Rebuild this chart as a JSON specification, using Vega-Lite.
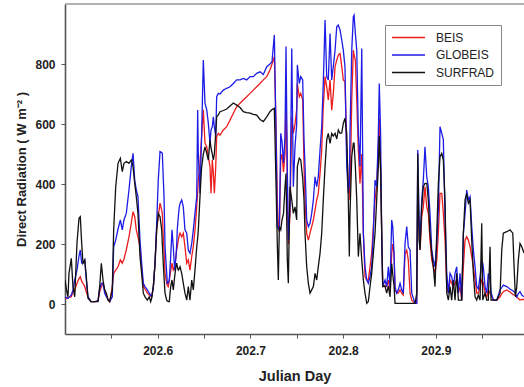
{
  "$schema": "https://vega.github.io/schema/vega-lite/v6.json",
  "width": 459,
  "height": 330,
  "autosize": {"type": "none"},
  "padding": {"left": 65, "top": 4, "right": 0, "bottom": 53},
  "background": "white",
  "config": {
    "view": {"stroke": null},
    "font": "Liberation Sans",
    "axis": {
      "grid": false,
      "domainColor": "#555555",
      "domainWidth": 1.6,
      "tickColor": "#555555",
      "tickSize": 4,
      "labelFont": "Liberation Sans",
      "labelFontWeight": "bold",
      "labelFontSize": 12,
      "labelColor": "#222222",
      "titleFont": "Liberation Sans",
      "titleFontWeight": "bold",
      "titleFontSize": 13,
      "titleColor": "#222222"
    },
    "legend": {
      "orient": "none",
      "legendX": 320,
      "legendY": 21,
      "strokeColor": "#888888",
      "fillColor": "white",
      "padding": 6,
      "symbolType": "M-1,0H5",
      "symbolSize": 121,
      "symbolStrokeWidth": 1.5,
      "labelFont": "Liberation Sans",
      "labelFontSize": 12,
      "labelColor": "#222222",
      "labelOffset": 32,
      "rowPadding": 4.5
    }
  },
  "layer": [
    {
      "data": {"values": [{"top": 1000}]},
      "mark": {"type": "rule", "color": "#999999", "strokeWidth": 1.5},
      "encoding": {
        "y": {"field": "top", "type": "quantitative", "title": "Direct Radiation ( W m⁻² )"}
      }
    },
    {
      "data": {
        "values": [
          {"t": 202.5000, "BEIS": 19, "GLOBEIS": 24, "SURFRAD": 80},
          {"t": 202.5016, "BEIS": 19, "GLOBEIS": 20, "SURFRAD": 47},
          {"t": 202.5032, "BEIS": 20, "GLOBEIS": 19, "SURFRAD": 24},
          {"t": 202.5043, "BEIS": 22, "GLOBEIS": 22, "SURFRAD": 102},
          {"t": 202.5068, "BEIS": 24, "GLOBEIS": 30, "SURFRAD": 152},
          {"t": 202.5086, "BEIS": 40, "GLOBEIS": 47, "SURFRAD": 58},
          {"t": 202.5105, "BEIS": 47, "GLOBEIS": 80, "SURFRAD": 24},
          {"t": 202.5129, "BEIS": 69, "GLOBEIS": 113, "SURFRAD": 202},
          {"t": 202.5151, "BEIS": 85, "GLOBEIS": 160, "SURFRAD": 286},
          {"t": 202.5165, "BEIS": 91, "GLOBEIS": 180, "SURFRAD": 291},
          {"t": 202.5180, "BEIS": 75, "GLOBEIS": 136, "SURFRAD": 202},
          {"t": 202.5194, "BEIS": 69, "GLOBEIS": 136, "SURFRAD": 136},
          {"t": 202.5213, "BEIS": 58, "GLOBEIS": 147, "SURFRAD": 147},
          {"t": 202.5230, "BEIS": 40, "GLOBEIS": 80, "SURFRAD": 91},
          {"t": 202.5248, "BEIS": 24, "GLOBEIS": 24, "SURFRAD": 19},
          {"t": 202.5280, "BEIS": 8, "GLOBEIS": 8, "SURFRAD": 8},
          {"t": 202.5324, "BEIS": 8, "GLOBEIS": 8, "SURFRAD": 8},
          {"t": 202.5356, "BEIS": 10, "GLOBEIS": 10, "SURFRAD": 8},
          {"t": 202.5374, "BEIS": 40, "GLOBEIS": 50, "SURFRAD": 58},
          {"t": 202.5392, "BEIS": 58, "GLOBEIS": 69, "SURFRAD": 136},
          {"t": 202.5410, "BEIS": 69, "GLOBEIS": 69, "SURFRAD": 80},
          {"t": 202.5428, "BEIS": 47, "GLOBEIS": 36, "SURFRAD": 47},
          {"t": 202.5446, "BEIS": 30, "GLOBEIS": 24, "SURFRAD": 36},
          {"t": 202.5464, "BEIS": 15, "GLOBEIS": 15, "SURFRAD": 13},
          {"t": 202.5482, "BEIS": 8, "GLOBEIS": 8, "SURFRAD": 8},
          {"t": 202.5510, "BEIS": 58, "GLOBEIS": 24, "SURFRAD": 47},
          {"t": 202.5525, "BEIS": 102, "GLOBEIS": 191, "SURFRAD": 247},
          {"t": 202.5547, "BEIS": 113, "GLOBEIS": 213, "SURFRAD": 391},
          {"t": 202.5572, "BEIS": 124, "GLOBEIS": 250, "SURFRAD": 469},
          {"t": 202.5597, "BEIS": 147, "GLOBEIS": 280, "SURFRAD": 486},
          {"t": 202.5618, "BEIS": 136, "GLOBEIS": 247, "SURFRAD": 441},
          {"t": 202.5636, "BEIS": 150, "GLOBEIS": 280, "SURFRAD": 469},
          {"t": 202.5661, "BEIS": 180, "GLOBEIS": 302, "SURFRAD": 475},
          {"t": 202.5690, "BEIS": 224, "GLOBEIS": 380, "SURFRAD": 469},
          {"t": 202.5715, "BEIS": 270, "GLOBEIS": 458, "SURFRAD": 480},
          {"t": 202.5734, "BEIS": 308, "GLOBEIS": 502, "SURFRAD": 458},
          {"t": 202.5752, "BEIS": 291, "GLOBEIS": 413, "SURFRAD": 402},
          {"t": 202.5769, "BEIS": 247, "GLOBEIS": 380, "SURFRAD": 358},
          {"t": 202.5787, "BEIS": 224, "GLOBEIS": 358, "SURFRAD": 302},
          {"t": 202.5809, "BEIS": 191, "GLOBEIS": 213, "SURFRAD": 158},
          {"t": 202.5827, "BEIS": 113, "GLOBEIS": 136, "SURFRAD": 102},
          {"t": 202.5845, "BEIS": 58, "GLOBEIS": 69, "SURFRAD": 36},
          {"t": 202.5863, "BEIS": 50, "GLOBEIS": 58, "SURFRAD": 24},
          {"t": 202.5888, "BEIS": 36, "GLOBEIS": 47, "SURFRAD": 13},
          {"t": 202.5909, "BEIS": 30, "GLOBEIS": 36, "SURFRAD": 24},
          {"t": 202.5924, "BEIS": 27, "GLOBEIS": 30, "SURFRAD": 8},
          {"t": 202.5935, "BEIS": 24, "GLOBEIS": 24, "SURFRAD": 20},
          {"t": 202.5953, "BEIS": 58, "GLOBEIS": 58, "SURFRAD": 58},
          {"t": 202.5971, "BEIS": 136, "GLOBEIS": 136, "SURFRAD": 136},
          {"t": 202.5989, "BEIS": 247, "GLOBEIS": 269, "SURFRAD": 247},
          {"t": 202.6006, "BEIS": 291, "GLOBEIS": 413, "SURFRAD": 302},
          {"t": 202.6025, "BEIS": 336, "GLOBEIS": 508, "SURFRAD": 291},
          {"t": 202.6043, "BEIS": 313, "GLOBEIS": 505, "SURFRAD": 247},
          {"t": 202.6050, "BEIS": 300, "GLOBEIS": 502, "SURFRAD": 200},
          {"t": 202.6060, "BEIS": 224, "GLOBEIS": 420, "SURFRAD": 136},
          {"t": 202.6068, "BEIS": 180, "GLOBEIS": 358, "SURFRAD": 90},
          {"t": 202.6079, "BEIS": 102, "GLOBEIS": 191, "SURFRAD": 36},
          {"t": 202.6097, "BEIS": 69, "GLOBEIS": 102, "SURFRAD": 13},
          {"t": 202.6104, "BEIS": 62, "GLOBEIS": 69, "SURFRAD": 10},
          {"t": 202.6114, "BEIS": 58, "GLOBEIS": 70, "SURFRAD": 8},
          {"t": 202.6125, "BEIS": 80, "GLOBEIS": 80, "SURFRAD": 8},
          {"t": 202.6140, "BEIS": 110, "GLOBEIS": 158, "SURFRAD": 58},
          {"t": 202.6154, "BEIS": 136, "GLOBEIS": 247, "SURFRAD": 80},
          {"t": 202.6168, "BEIS": 113, "GLOBEIS": 191, "SURFRAD": 47},
          {"t": 202.6183, "BEIS": 124, "GLOBEIS": 113, "SURFRAD": 91},
          {"t": 202.6197, "BEIS": 160, "GLOBEIS": 158, "SURFRAD": 125},
          {"t": 202.6205, "BEIS": 180, "GLOBEIS": 200, "SURFRAD": 136},
          {"t": 202.6211, "BEIS": 190, "GLOBEIS": 247, "SURFRAD": 125},
          {"t": 202.6222, "BEIS": 213, "GLOBEIS": 290, "SURFRAD": 113},
          {"t": 202.6233, "BEIS": 230, "GLOBEIS": 324, "SURFRAD": 118},
          {"t": 202.6241, "BEIS": 236, "GLOBEIS": 335, "SURFRAD": 124},
          {"t": 202.6259, "BEIS": 224, "GLOBEIS": 347, "SURFRAD": 102},
          {"t": 202.6276, "BEIS": 236, "GLOBEIS": 324, "SURFRAD": 69},
          {"t": 202.6294, "BEIS": 191, "GLOBEIS": 247, "SURFRAD": 36},
          {"t": 202.6313, "BEIS": 136, "GLOBEIS": 236, "SURFRAD": 13},
          {"t": 202.6330, "BEIS": 147, "GLOBEIS": 180, "SURFRAD": 58},
          {"t": 202.6348, "BEIS": 113, "GLOBEIS": 169, "SURFRAD": 13},
          {"t": 202.6367, "BEIS": 158, "GLOBEIS": 202, "SURFRAD": 80},
          {"t": 202.6384, "BEIS": 191, "GLOBEIS": 247, "SURFRAD": 47},
          {"t": 202.6402, "BEIS": 247, "GLOBEIS": 302, "SURFRAD": 113},
          {"t": 202.6421, "BEIS": 324, "GLOBEIS": 358, "SURFRAD": 191},
          {"t": 202.6431, "BEIS": 370, "GLOBEIS": 647, "SURFRAD": 220},
          {"t": 202.6438, "BEIS": 413, "GLOBEIS": 500, "SURFRAD": 247},
          {"t": 202.6456, "BEIS": 469, "GLOBEIS": 369, "SURFRAD": 358},
          {"t": 202.6472, "BEIS": 550, "GLOBEIS": 540, "SURFRAD": 450},
          {"t": 202.6492, "BEIS": 647, "GLOBEIS": 813, "SURFRAD": 500},
          {"t": 202.6510, "BEIS": 536, "GLOBEIS": 669, "SURFRAD": 524},
          {"t": 202.6529, "BEIS": 524, "GLOBEIS": 647, "SURFRAD": 502},
          {"t": 202.6546, "BEIS": 491, "GLOBEIS": 602, "SURFRAD": 480},
          {"t": 202.6564, "BEIS": 458, "GLOBEIS": 536, "SURFRAD": 547},
          {"t": 202.6575, "BEIS": 369, "GLOBEIS": 580, "SURFRAD": 520},
          {"t": 202.6589, "BEIS": 480, "GLOBEIS": 591, "SURFRAD": 500},
          {"t": 202.6600, "BEIS": 436, "GLOBEIS": 624, "SURFRAD": 480},
          {"t": 202.6611, "BEIS": 369, "GLOBEIS": 590, "SURFRAD": 500},
          {"t": 202.6626, "BEIS": 458, "GLOBEIS": 558, "SURFRAD": 569},
          {"t": 202.6636, "BEIS": 558, "GLOBEIS": 691, "SURFRAD": 624},
          {"t": 202.6654, "BEIS": 569, "GLOBEIS": 702, "SURFRAD": 630},
          {"t": 202.6672, "BEIS": 563, "GLOBEIS": 700, "SURFRAD": 641},
          {"t": 202.6708, "BEIS": 580, "GLOBEIS": 713, "SURFRAD": 645},
          {"t": 202.6744, "BEIS": 591, "GLOBEIS": 719, "SURFRAD": 650},
          {"t": 202.6780, "BEIS": 613, "GLOBEIS": 724, "SURFRAD": 660},
          {"t": 202.6816, "BEIS": 636, "GLOBEIS": 735, "SURFRAD": 670},
          {"t": 202.6852, "BEIS": 658, "GLOBEIS": 747, "SURFRAD": 663},
          {"t": 202.6888, "BEIS": 669, "GLOBEIS": 747, "SURFRAD": 655},
          {"t": 202.6923, "BEIS": 680, "GLOBEIS": 752, "SURFRAD": 641},
          {"t": 202.6960, "BEIS": 691, "GLOBEIS": 747, "SURFRAD": 638},
          {"t": 202.6996, "BEIS": 702, "GLOBEIS": 758, "SURFRAD": 636},
          {"t": 202.7031, "BEIS": 713, "GLOBEIS": 758, "SURFRAD": 632},
          {"t": 202.7068, "BEIS": 724, "GLOBEIS": 769, "SURFRAD": 630},
          {"t": 202.7104, "BEIS": 735, "GLOBEIS": 774, "SURFRAD": 615},
          {"t": 202.7139, "BEIS": 747, "GLOBEIS": 765, "SURFRAD": 608},
          {"t": 202.7176, "BEIS": 758, "GLOBEIS": 791, "SURFRAD": 624},
          {"t": 202.7211, "BEIS": 780, "GLOBEIS": 800, "SURFRAD": 641},
          {"t": 202.7233, "BEIS": 800, "GLOBEIS": 808, "SURFRAD": 648},
          {"t": 202.7258, "BEIS": 824, "GLOBEIS": 897, "SURFRAD": 652},
          {"t": 202.7276, "BEIS": 600, "GLOBEIS": 569, "SURFRAD": 404},
          {"t": 202.7290, "BEIS": 350, "GLOBEIS": 258, "SURFRAD": 200},
          {"t": 202.7301, "BEIS": 260, "GLOBEIS": 250, "SURFRAD": 80},
          {"t": 202.7312, "BEIS": 240, "GLOBEIS": 247, "SURFRAD": 258},
          {"t": 202.7327, "BEIS": 480, "GLOBEIS": 569, "SURFRAD": 247},
          {"t": 202.7341, "BEIS": 500, "GLOBEIS": 540, "SURFRAD": 280},
          {"t": 202.7357, "BEIS": 440, "GLOBEIS": 470, "SURFRAD": 302},
          {"t": 202.7373, "BEIS": 500, "GLOBEIS": 560, "SURFRAD": 391},
          {"t": 202.7384, "BEIS": 700, "GLOBEIS": 858, "SURFRAD": 435},
          {"t": 202.7398, "BEIS": 400, "GLOBEIS": 450, "SURFRAD": 147},
          {"t": 202.7409, "BEIS": 200, "GLOBEIS": 213, "SURFRAD": 69},
          {"t": 202.7427, "BEIS": 300, "GLOBEIS": 330, "SURFRAD": 391},
          {"t": 202.7446, "BEIS": 624, "GLOBEIS": 852, "SURFRAD": 347},
          {"t": 202.7463, "BEIS": 569, "GLOBEIS": 391, "SURFRAD": 302},
          {"t": 202.7481, "BEIS": 600, "GLOBEIS": 524, "SURFRAD": 324},
          {"t": 202.7499, "BEIS": 650, "GLOBEIS": 600, "SURFRAD": 280},
          {"t": 202.7506, "BEIS": 735, "GLOBEIS": 797, "SURFRAD": 458},
          {"t": 202.7527, "BEIS": 691, "GLOBEIS": 735, "SURFRAD": 486},
          {"t": 202.7543, "BEIS": 702, "GLOBEIS": 758, "SURFRAD": 480},
          {"t": 202.7564, "BEIS": 680, "GLOBEIS": 747, "SURFRAD": 420},
          {"t": 202.7578, "BEIS": 458, "GLOBEIS": 547, "SURFRAD": 347},
          {"t": 202.7589, "BEIS": 347, "GLOBEIS": 458, "SURFRAD": 236},
          {"t": 202.7607, "BEIS": 236, "GLOBEIS": 280, "SURFRAD": 124},
          {"t": 202.7625, "BEIS": 213, "GLOBEIS": 258, "SURFRAD": 69},
          {"t": 202.7643, "BEIS": 236, "GLOBEIS": 269, "SURFRAD": 36},
          {"t": 202.7661, "BEIS": 258, "GLOBEIS": 302, "SURFRAD": 47},
          {"t": 202.7679, "BEIS": 280, "GLOBEIS": 347, "SURFRAD": 58},
          {"t": 202.7697, "BEIS": 313, "GLOBEIS": 424, "SURFRAD": 102},
          {"t": 202.7715, "BEIS": 347, "GLOBEIS": 391, "SURFRAD": 80},
          {"t": 202.7732, "BEIS": 369, "GLOBEIS": 424, "SURFRAD": 124},
          {"t": 202.7751, "BEIS": 435, "GLOBEIS": 513, "SURFRAD": 169},
          {"t": 202.7769, "BEIS": 513, "GLOBEIS": 591, "SURFRAD": 236},
          {"t": 202.7786, "BEIS": 658, "GLOBEIS": 735, "SURFRAD": 347},
          {"t": 202.7805, "BEIS": 758, "GLOBEIS": 947, "SURFRAD": 458},
          {"t": 202.7823, "BEIS": 724, "GLOBEIS": 758, "SURFRAD": 547},
          {"t": 202.7840, "BEIS": 680, "GLOBEIS": 747, "SURFRAD": 569},
          {"t": 202.7859, "BEIS": 747, "GLOBEIS": 902, "SURFRAD": 535},
          {"t": 202.7877, "BEIS": 646, "GLOBEIS": 747, "SURFRAD": 569},
          {"t": 202.7894, "BEIS": 702, "GLOBEIS": 791, "SURFRAD": 560},
          {"t": 202.7913, "BEIS": 791, "GLOBEIS": 846, "SURFRAD": 569},
          {"t": 202.7931, "BEIS": 813, "GLOBEIS": 924, "SURFRAD": 550},
          {"t": 202.7948, "BEIS": 830, "GLOBEIS": 930, "SURFRAD": 580},
          {"t": 202.7967, "BEIS": 835, "GLOBEIS": 913, "SURFRAD": 569},
          {"t": 202.7985, "BEIS": 791, "GLOBEIS": 880, "SURFRAD": 570},
          {"t": 202.8002, "BEIS": 747, "GLOBEIS": 846, "SURFRAD": 602},
          {"t": 202.8020, "BEIS": 741, "GLOBEIS": 791, "SURFRAD": 619},
          {"t": 202.8039, "BEIS": 513, "GLOBEIS": 458, "SURFRAD": 569},
          {"t": 202.8056, "BEIS": 402, "GLOBEIS": 369, "SURFRAD": 347},
          {"t": 202.8067, "BEIS": 380, "GLOBEIS": 400, "SURFRAD": 158},
          {"t": 202.8074, "BEIS": 347, "GLOBEIS": 569, "SURFRAD": 300},
          {"t": 202.8093, "BEIS": 680, "GLOBEIS": 846, "SURFRAD": 491},
          {"t": 202.8110, "BEIS": 846, "GLOBEIS": 958, "SURFRAD": 536},
          {"t": 202.8118, "BEIS": 830, "GLOBEIS": 963, "SURFRAD": 536},
          {"t": 202.8132, "BEIS": 813, "GLOBEIS": 902, "SURFRAD": 458},
          {"t": 202.8147, "BEIS": 680, "GLOBEIS": 846, "SURFRAD": 347},
          {"t": 202.8164, "BEIS": 513, "GLOBEIS": 569, "SURFRAD": 158},
          {"t": 202.8182, "BEIS": 402, "GLOBEIS": 458, "SURFRAD": 236},
          {"t": 202.8201, "BEIS": 500, "GLOBEIS": 852, "SURFRAD": 147},
          {"t": 202.8218, "BEIS": 236, "GLOBEIS": 236, "SURFRAD": 80},
          {"t": 202.8236, "BEIS": 91, "GLOBEIS": 124, "SURFRAD": 36},
          {"t": 202.8255, "BEIS": 80, "GLOBEIS": 80, "SURFRAD": 2},
          {"t": 202.8272, "BEIS": 80, "GLOBEIS": 69, "SURFRAD": 8},
          {"t": 202.8290, "BEIS": 124, "GLOBEIS": 91, "SURFRAD": 58},
          {"t": 202.8308, "BEIS": 169, "GLOBEIS": 124, "SURFRAD": 102},
          {"t": 202.8326, "BEIS": 258, "GLOBEIS": 236, "SURFRAD": 169},
          {"t": 202.8344, "BEIS": 347, "GLOBEIS": 413, "SURFRAD": 236},
          {"t": 202.8362, "BEIS": 391, "GLOBEIS": 391, "SURFRAD": 347},
          {"t": 202.8380, "BEIS": 513, "GLOBEIS": 569, "SURFRAD": 458},
          {"t": 202.8390, "BEIS": 620, "GLOBEIS": 735, "SURFRAD": 560},
          {"t": 202.8404, "BEIS": 450, "GLOBEIS": 569, "SURFRAD": 450},
          {"t": 202.8416, "BEIS": 236, "GLOBEIS": 236, "SURFRAD": 236},
          {"t": 202.8427, "BEIS": 69, "GLOBEIS": 58, "SURFRAD": 58},
          {"t": 202.8452, "BEIS": 58, "GLOBEIS": 80, "SURFRAD": 60},
          {"t": 202.8470, "BEIS": 58, "GLOBEIS": 58, "SURFRAD": 36},
          {"t": 202.8488, "BEIS": 80, "GLOBEIS": 124, "SURFRAD": 60},
          {"t": 202.8506, "BEIS": 47, "GLOBEIS": 58, "SURFRAD": 24},
          {"t": 202.8524, "BEIS": 169, "GLOBEIS": 280, "SURFRAD": 135},
          {"t": 202.8535, "BEIS": 200, "GLOBEIS": 258, "SURFRAD": 100},
          {"t": 202.8549, "BEIS": 169, "GLOBEIS": 169, "SURFRAD": 60},
          {"t": 202.8560, "BEIS": 47, "GLOBEIS": 58, "SURFRAD": 2},
          {"t": 202.8578, "BEIS": 36, "GLOBEIS": 36, "SURFRAD": 2},
          {"t": 202.8595, "BEIS": 36, "GLOBEIS": 47, "SURFRAD": 2},
          {"t": 202.8614, "BEIS": 47, "GLOBEIS": 69, "SURFRAD": 2},
          {"t": 202.8632, "BEIS": 36, "GLOBEIS": 47, "SURFRAD": 2},
          {"t": 202.8649, "BEIS": 30, "GLOBEIS": 36, "SURFRAD": 2},
          {"t": 202.8668, "BEIS": 169, "GLOBEIS": 202, "SURFRAD": 2},
          {"t": 202.8686, "BEIS": 180, "GLOBEIS": 258, "SURFRAD": 2},
          {"t": 202.8703, "BEIS": 147, "GLOBEIS": 191, "SURFRAD": 2},
          {"t": 202.8722, "BEIS": 36, "GLOBEIS": 180, "SURFRAD": 2},
          {"t": 202.8740, "BEIS": 13, "GLOBEIS": 36, "SURFRAD": 2},
          {"t": 202.8776, "BEIS": 2, "GLOBEIS": 2, "SURFRAD": 2},
          {"t": 202.8794, "BEIS": 2, "GLOBEIS": 2, "SURFRAD": 36},
          {"t": 202.8805, "BEIS": 391, "GLOBEIS": 513, "SURFRAD": 502},
          {"t": 202.8819, "BEIS": 250, "GLOBEIS": 291, "SURFRAD": 213},
          {"t": 202.8830, "BEIS": 180, "GLOBEIS": 202, "SURFRAD": 180},
          {"t": 202.8848, "BEIS": 291, "GLOBEIS": 347, "SURFRAD": 324},
          {"t": 202.8865, "BEIS": 324, "GLOBEIS": 413, "SURFRAD": 391},
          {"t": 202.8883, "BEIS": 391, "GLOBEIS": 524, "SURFRAD": 402},
          {"t": 202.8902, "BEIS": 324, "GLOBEIS": 424, "SURFRAD": 402},
          {"t": 202.8919, "BEIS": 302, "GLOBEIS": 391, "SURFRAD": 347},
          {"t": 202.8937, "BEIS": 213, "GLOBEIS": 302, "SURFRAD": 236},
          {"t": 202.8956, "BEIS": 147, "GLOBEIS": 180, "SURFRAD": 169},
          {"t": 202.8973, "BEIS": 124, "GLOBEIS": 147, "SURFRAD": 124},
          {"t": 202.8991, "BEIS": 102, "GLOBEIS": 124, "SURFRAD": 58},
          {"t": 202.9010, "BEIS": 147, "GLOBEIS": 202, "SURFRAD": 236},
          {"t": 202.9027, "BEIS": 236, "GLOBEIS": 313, "SURFRAD": 400},
          {"t": 202.9045, "BEIS": 369, "GLOBEIS": 591, "SURFRAD": 491},
          {"t": 202.9064, "BEIS": 369, "GLOBEIS": 569, "SURFRAD": 502},
          {"t": 202.9081, "BEIS": 302, "GLOBEIS": 547, "SURFRAD": 480},
          {"t": 202.9099, "BEIS": 213, "GLOBEIS": 291, "SURFRAD": 347},
          {"t": 202.9118, "BEIS": 58, "GLOBEIS": 102, "SURFRAD": 36},
          {"t": 202.9135, "BEIS": 36, "GLOBEIS": 36, "SURFRAD": 13},
          {"t": 202.9153, "BEIS": 80, "GLOBEIS": 102, "SURFRAD": 58},
          {"t": 202.9171, "BEIS": 69, "GLOBEIS": 91, "SURFRAD": 13},
          {"t": 202.9189, "BEIS": 58, "GLOBEIS": 58, "SURFRAD": 80},
          {"t": 202.9207, "BEIS": 69, "GLOBEIS": 102, "SURFRAD": 13},
          {"t": 202.9225, "BEIS": 80, "GLOBEIS": 124, "SURFRAD": 102},
          {"t": 202.9243, "BEIS": 36, "GLOBEIS": 36, "SURFRAD": 13},
          {"t": 202.9261, "BEIS": 58, "GLOBEIS": 102, "SURFRAD": 13},
          {"t": 202.9279, "BEIS": 13, "GLOBEIS": 13, "SURFRAD": 13},
          {"t": 202.9297, "BEIS": 124, "GLOBEIS": 236, "SURFRAD": 236},
          {"t": 202.9315, "BEIS": 213, "GLOBEIS": 300, "SURFRAD": 347},
          {"t": 202.9333, "BEIS": 224, "GLOBEIS": 380, "SURFRAD": 369},
          {"t": 202.9351, "BEIS": 213, "GLOBEIS": 347, "SURFRAD": 336},
          {"t": 202.9369, "BEIS": 191, "GLOBEIS": 358, "SURFRAD": 347},
          {"t": 202.9387, "BEIS": 158, "GLOBEIS": 258, "SURFRAD": 213},
          {"t": 202.9405, "BEIS": 124, "GLOBEIS": 180, "SURFRAD": 102},
          {"t": 202.9423, "BEIS": 80, "GLOBEIS": 124, "SURFRAD": 24},
          {"t": 202.9441, "BEIS": 36, "GLOBEIS": 58, "SURFRAD": 13},
          {"t": 202.9458, "BEIS": 36, "GLOBEIS": 50, "SURFRAD": 30},
          {"t": 202.9477, "BEIS": 58, "GLOBEIS": 91, "SURFRAD": 13},
          {"t": 202.9495, "BEIS": 80, "GLOBEIS": 147, "SURFRAD": 269},
          {"t": 202.9506, "BEIS": 75, "GLOBEIS": 135, "SURFRAD": 13},
          {"t": 202.9512, "BEIS": 70, "GLOBEIS": 124, "SURFRAD": 20},
          {"t": 202.9531, "BEIS": 36, "GLOBEIS": 58, "SURFRAD": 36},
          {"t": 202.9549, "BEIS": 24, "GLOBEIS": 36, "SURFRAD": 13},
          {"t": 202.9566, "BEIS": 47, "GLOBEIS": 102, "SURFRAD": 13},
          {"t": 202.9585, "BEIS": 36, "GLOBEIS": 80, "SURFRAD": 191},
          {"t": 202.9595, "BEIS": 30, "GLOBEIS": 40, "SURFRAD": 13},
          {"t": 202.9620, "BEIS": 13, "GLOBEIS": 13, "SURFRAD": 13},
          {"t": 202.9657, "BEIS": 13, "GLOBEIS": 13, "SURFRAD": 13},
          {"t": 202.9693, "BEIS": 24, "GLOBEIS": 47, "SURFRAD": 36},
          {"t": 202.9711, "BEIS": 35, "GLOBEIS": 55, "SURFRAD": 180},
          {"t": 202.9728, "BEIS": 41, "GLOBEIS": 63, "SURFRAD": 236},
          {"t": 202.9765, "BEIS": 47, "GLOBEIS": 58, "SURFRAD": 241},
          {"t": 202.9800, "BEIS": 40, "GLOBEIS": 50, "SURFRAD": 247},
          {"t": 202.9830, "BEIS": 32, "GLOBEIS": 44, "SURFRAD": 236},
          {"t": 202.9844, "BEIS": 30, "GLOBEIS": 41, "SURFRAD": 124},
          {"t": 202.9858, "BEIS": 28, "GLOBEIS": 35, "SURFRAD": 24},
          {"t": 202.9873, "BEIS": 24, "GLOBEIS": 24, "SURFRAD": 58},
          {"t": 202.9890, "BEIS": 18, "GLOBEIS": 35, "SURFRAD": 147},
          {"t": 202.9908, "BEIS": 13, "GLOBEIS": 41, "SURFRAD": 202},
          {"t": 202.9927, "BEIS": 15, "GLOBEIS": 30, "SURFRAD": 191},
          {"t": 202.9951, "BEIS": 15, "GLOBEIS": 24, "SURFRAD": 170}
        ]
      },
      "transform": [{"fold": ["BEIS", "GLOBEIS", "SURFRAD"], "as": ["series", "value"]}],
      "mark": {"type": "line", "strokeWidth": 1.3, "clip": true},
      "encoding": {
        "x": {
          "field": "t",
          "type": "quantitative",
          "title": "Julian Day",
          "scale": {"domain": [202.5, 202.9951], "nice": false, "zero": false},
          "axis": {
            "values": [202.55, 202.6, 202.65, 202.7, 202.75, 202.8, 202.85, 202.9, 202.95],
            "labelExpr": "abs(datum.value * 10 - round(datum.value * 10)) < 0.01 ? format(datum.value, '.1f') : ''",
            "labelPadding": 7,
            "titlePadding": 13,
            "titleFontSize": 14.5
          }
        },
        "y": {
          "field": "value",
          "type": "quantitative",
          "title": "Direct Radiation ( W m⁻² )",
          "scale": {"domain": [-100, 1000], "nice": false, "zero": false},
          "axis": {
            "values": [0, 100, 200, 300, 400, 500, 600, 700, 800, 900],
            "labelExpr": "datum.value % 200 == 0 ? datum.label : ''",
            "labelPadding": 6,
            "titlePadding": 6
          }
        },
        "color": {
          "field": "series",
          "type": "nominal",
          "scale": {"domain": ["BEIS", "GLOBEIS", "SURFRAD"], "range": ["#ee1c1c", "#1c1ce6", "#111111"]},
          "legend": {"title": null}
        }
      }
    }
  ]
}
